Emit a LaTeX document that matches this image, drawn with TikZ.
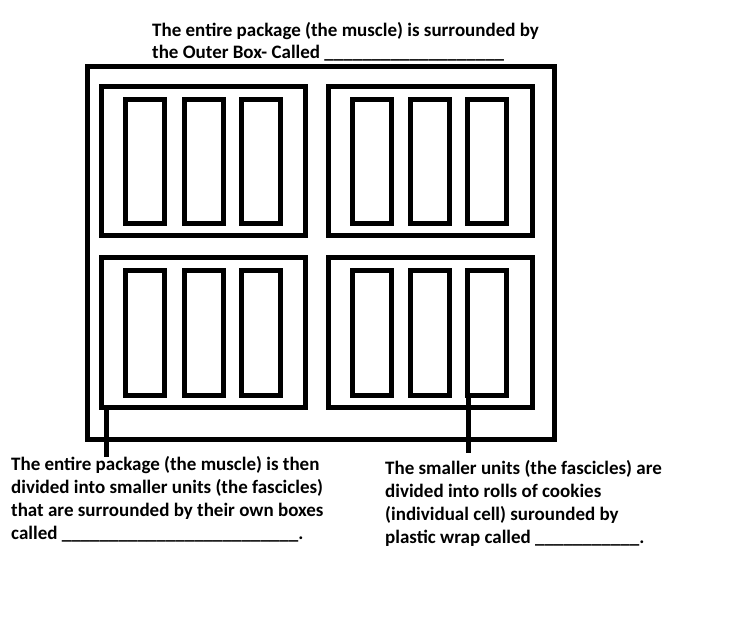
\documentclass[tikz,border=0pt]{standalone}
\usepackage{fontspec}
\setmainfont{Carlito}
\usetikzlibrary{positioning}
\tikzset{
  wall/.style={draw=black,line width=5pt},
  note/.style={font=\fontsize{19}{22.7}\selectfont\bfseries,align=left,inner sep=0pt,anchor=base west}
}

\begin{document}
\begin{tikzpicture}[x=1pt,y=-1pt]
  \useasboundingbox (0,0) rectangle (749,617);
  % outer box (muscle)
  \draw[wall] (87.5,67) rectangle (554.5,439.5);
  % fascicle boxes, each with three cells
  \foreach \fx in {101.5,328}{
    \foreach \fy in {87,258}{
      \draw[wall] (\fx,\fy) rectangle ++(204,149);
      \foreach \cx in {24,82.5,139.5}
        \draw[wall] (\fx+\cx,\fy+13) rectangle ++(39,124);
    }
  }
  \node[note] (toptext) at (152,59) {The entire package (the muscle) is surrounded by\\
    the Outer Box- Called \_\_\_\_\_\_\_\_\_\_\_\_\_\_\_\_\_\_\_};
  \node[note] (lefttext) at (11,539) {The entire package (the muscle) is then\\
    divided into smaller units (the fascicles)\\
    that are surrounded by their own boxes\\
    called \_\_\_\_\_\_\_\_\_\_\_\_\_\_\_\_\_\_\_\_\_\_\_\_\_.};
  \node[note] (righttext) at (385,543) {The smaller units (the fascicles) are\\
    divided into rolls of cookies\\
    (individual cell) surounded by\\
    plastic wrap called \_\_\_\_\_\_\_\_\_\_\_.};
  % leaders
  \coordinate (fas) at (106.5,408);
  \draw[wall] (fas) -- (fas |- lefttext.north);
  \coordinate (cel) at (468.5,395.5);
  \coordinate (celend) at (468.5,453);
  \draw[wall] (cel) -- (celend);
\end{tikzpicture}
\end{document}
